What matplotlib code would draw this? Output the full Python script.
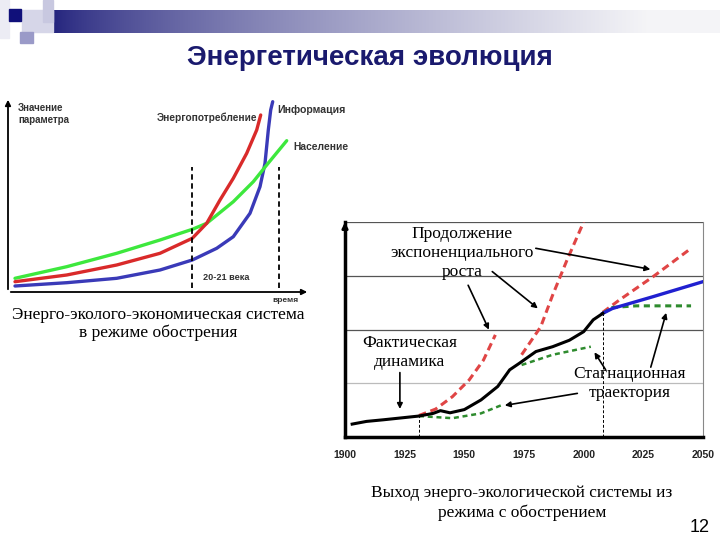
import numpy as np
import matplotlib.pyplot as plt
from matplotlib.patches import Rectangle

plt.rcParams['font.family'] = ['Liberation Sans', 'DejaVu Sans']

# left chart: conceptual curves (time units, value units)
green_x = [7, 58.7, 108.7, 152, 184.3, 198.7, 225.3, 245.3, 258.7, 278.7]
green_y = [13.7, 25.3, 38.7, 52, 62.7, 68.7, 90.3, 110.3, 127, 151.3]
red_x = [7, 58.7, 108.7, 152, 184.3, 198.7, 212, 225.3, 238.7, 248.7, 252.7]
red_y = [10.3, 17, 27, 38.7, 53.7, 68.7, 92, 113.7, 138.7, 162, 177]
blue_x = [7, 58.7, 108.7, 152, 184.3, 208.7, 225.3, 242, 252, 257, 260.3, 262.7, 264.7]
blue_y = [6, 9.3, 13.7, 22, 32, 43.7, 55.3, 78.7, 105.3, 128.7, 162, 182, 190.3]
century_lines = [184, 271]

# right chart: years and values
actual_years = [1903, 1909, 1916, 1931, 1937, 1940, 1944, 1950, 1957, 1964, 1969, 1973,
                1980, 1987, 1994, 2000, 2004, 2008]
actual_vals = [0.24, 0.29, 0.32, 0.39, 0.44, 0.49, 0.45, 0.51, 0.69, 0.94, 1.25, 1.37,
               1.59, 1.68, 1.80, 1.96, 2.18, 2.30]
blue_years = [2008, 2012, 2029, 2050]
blue_vals = [2.30, 2.39, 2.61, 2.89]
red_right_years = [2008, 2015, 2029, 2045]
red_right_vals = [2.32, 2.55, 2.98, 3.51]
red_steep_years = [1974, 1982, 1987, 1993, 2000]
red_steep_vals = [1.53, 2.05, 2.64, 3.29, 4.0]
red_1930_years = [1931, 1938, 1945, 1952, 1958, 1963]
red_1930_vals = [0.40, 0.52, 0.75, 1.06, 1.43, 1.90]
green_right_years = [2008, 2012, 2022, 2045]
green_right_vals = [2.30, 2.41, 2.44, 2.44]
green_low_years = [1931, 1945, 1957, 1966]
green_low_vals = [0.39, 0.35, 0.44, 0.60]
green_mid_years = [1974, 1987, 2003]
green_mid_vals = [1.34, 1.53, 1.68]
year_ticks = [1900, 1925, 1950, 1975, 2000, 2025, 2050]
grid_levels = [1, 2, 3, 4]

W, H = 720, 540


def box(x0, y0, x1, y1):
    # pixel box -> figure fraction rect
    return [x0 / W, 1 - y1 / H, (x1 - x0) / W, (y1 - y0) / H]


fig = plt.figure(figsize=(7.2, 5.4), dpi=100)

# decoration at the top
deco = fig.add_axes([0, 0, 1, 1])
deco.axis('off')
px = np.linspace(43, 720, 400)
t = np.clip((px - 50) / 600, 0, 1) ** 0.7
navy = np.array([0.12, 0.12, 0.48])
light = np.array([0.96, 0.96, 0.97])
grad = (navy[None, :] * (1 - t[:, None]) + light[None, :] * t[:, None])[None, :, :]
deco.imshow(grad, extent=[43, 720, 33, 10], aspect='auto')
deco.add_patch(Rectangle((0, 0), 9, 38, color='#ececf4'))
deco.add_patch(Rectangle((22, 10), 31, 22, color='#d6d6e8'))
deco.add_patch(Rectangle((43, 0), 10, 22, color='#c8c8e0'))
deco.add_patch(Rectangle((9, 9), 12, 12, color='#10107a'))
deco.add_patch(Rectangle((20, 32), 13, 11, color='#9a9ac8'))
deco.set_xlim(0, W)
deco.set_ylim(H, 0)

fig.text(370 / W, 1 - 58 / H, 'Энергетическая эволюция', ha='center', va='center',
         fontsize=20, fontweight='bold', color='#1a1a6e')

# left chart
ax1 = fig.add_axes(box(8, 100, 308, 292))
ax1.set_xlim(0, 300)
ax1.set_ylim(0, 192)
ax1.axis('off')
ax1.plot(blue_x, blue_y, color='#3a3ab8', lw=2.4, solid_capstyle='round')
ax1.plot(green_x, green_y, color='#3de83d', lw=2.4, solid_capstyle='round')
ax1.plot(red_x, red_y, color='#d92a2a', lw=2.4, solid_capstyle='round')
for cx in century_lines:
    ax1.plot([cx, cx], [4, 125], color='black', lw=1.3, ls=(0, (3, 2)))
ax1.annotate('', xy=(0, 195), xytext=(0, 0),
             arrowprops=dict(arrowstyle='-|>', color='black', lw=1.3, mutation_scale=8),
             annotation_clip=False)
ax1.annotate('', xy=(302, 0), xytext=(0, 0),
             arrowprops=dict(arrowstyle='-|>', color='black', lw=1.3, mutation_scale=8),
             annotation_clip=False)
lab = dict(fontweight='bold', color='#333333')
ax1.text(10, 189, 'Значение\nпараметра', fontsize=7, va='top', linespacing=1.3, **lab)
ax1.text(249, 174, 'Энергопотребление', fontsize=7.3, ha='right', va='center', **lab)
ax1.text(269, 182, 'Информация', fontsize=7.6, va='center', **lab)
ax1.text(285, 145, 'Население', fontsize=7.4, va='center', **lab)
ax1.text(218, 15, '20-21 века', fontsize=6.6, ha='center', va='center', **lab)
ax1.text(277, -8, 'время', fontsize=6, ha='center', va='center', **lab)

serif = ['Liberation Serif', 'DejaVu Serif']
fig.text(158 / W, 1 - 324 / H, 'Энерго-эколого-экономическая система\nв режиме обострения',
         ha='center', va='center', fontsize=12.5, family=serif, linespacing=1.15)

# right chart
ax2 = fig.add_axes(box(345, 222, 703, 437))
ax2.set_xlim(1900, 2050)
ax2.set_ylim(0, 4)
for lv in grid_levels:
    ax2.axhline(lv, color='#bbbbbb' if lv == 1 else '#555555', lw=0.9, zorder=1)
ax2.plot([1931, 1931], [0, 0.39], color='black', lw=0.7, ls=(0, (3, 2)), zorder=2)
ax2.plot([2008, 2008], [0, 2.30], color='black', lw=0.7, ls=(0, (3, 2)), zorder=2)
ax2.plot(red_1930_years, red_1930_vals, color='#e04545', lw=2.2, ls=(0, (2.5, 1.5)), zorder=3)
ax2.plot(red_steep_years, red_steep_vals, color='#e04545', lw=2.2, ls=(0, (2.5, 1.5)), zorder=3)
ax2.plot(red_right_years, red_right_vals, color='#e04545', lw=2.2, ls=(0, (2.5, 1.5)), zorder=3)
ax2.plot(green_low_years, green_low_vals, color='#2e8b2e', lw=1.8, ls=(0, (2, 1.5)), zorder=3)
ax2.plot(green_mid_years, green_mid_vals, color='#2e8b2e', lw=1.8, ls=(0, (2, 1.5)), zorder=3)
ax2.plot(green_right_years, green_right_vals, color='#2e8b2e', lw=2.2, ls=(0, (2, 1.5)), zorder=3)
ax2.plot(blue_years, blue_vals, color='#2020d0', lw=2.4, zorder=4)
ax2.plot(actual_years, actual_vals, color='black', lw=2.2, zorder=5)

ax2.spines['top'].set_visible(False)
ax2.spines['right'].set_color('#888888')
ax2.spines['right'].set_linewidth(0.8)
ax2.spines['left'].set_linewidth(2.5)
ax2.spines['bottom'].set_linewidth(2.5)
ax2.set_xticks(year_ticks)
ax2.set_xticklabels([str(y) for y in year_ticks], fontsize=7.5, fontweight='bold',
                    color='#222222')
ax2.tick_params(axis='x', length=0, pad=9)
ax2.set_yticks([])
ax2.annotate('', xy=(1900, 4.05), xytext=(1900, 3.8),
             arrowprops=dict(arrowstyle='-|>', color='black', lw=2, mutation_scale=8),
             annotation_clip=False)

txt = dict(ha='center', va='center', fontsize=12.5, family=serif, linespacing=1.25)
arr = dict(arrowstyle='-|>', color='black', lw=1.2, mutation_scale=8)
ax2.text(1949, 3.42, 'Продолжение\nэкспоненциального\nроста', **txt)
ax2.annotate('', xy=(2029.1, 3.11), xytext=(1978.8, 3.52), arrowprops=arr)
ax2.annotate('', xy=(1981.7, 2.36), xytext=(1960.8, 3.11), arrowprops=arr)
ax2.annotate('', xy=(1960.8, 1.95), xytext=(1951.1, 2.87), arrowprops=arr)
ax2.text(1927.2, 1.58, 'Фактическая\nдинамика', **txt)
ax2.annotate('', xy=(1923, 0.47), xytext=(1923, 1.25), arrowprops=arr)
ax2.text(2019.4, 0.99, 'Стагнационная\nтраектория', **txt)
ax2.annotate('', xy=(1965.8, 0.58), xytext=(1998.5, 0.82), arrowprops=arr)
ax2.annotate('', xy=(2003.9, 1.62), xytext=(2009.8, 1.21), arrowprops=arr)
ax2.annotate('', xy=(2034.9, 2.36), xytext=(2027.8, 1.25), arrowprops=arr)

fig.text(522 / W, 1 - 503 / H, 'Выход энерго-экологической системы из\nрежима с обострением',
         ha='center', va='center', fontsize=12.5, family=serif, linespacing=1.25)
fig.text(700 / W, 1 - 527 / H, '12', ha='center', va='center', fontsize=13)

fig.savefig('out.png', dpi=100)
